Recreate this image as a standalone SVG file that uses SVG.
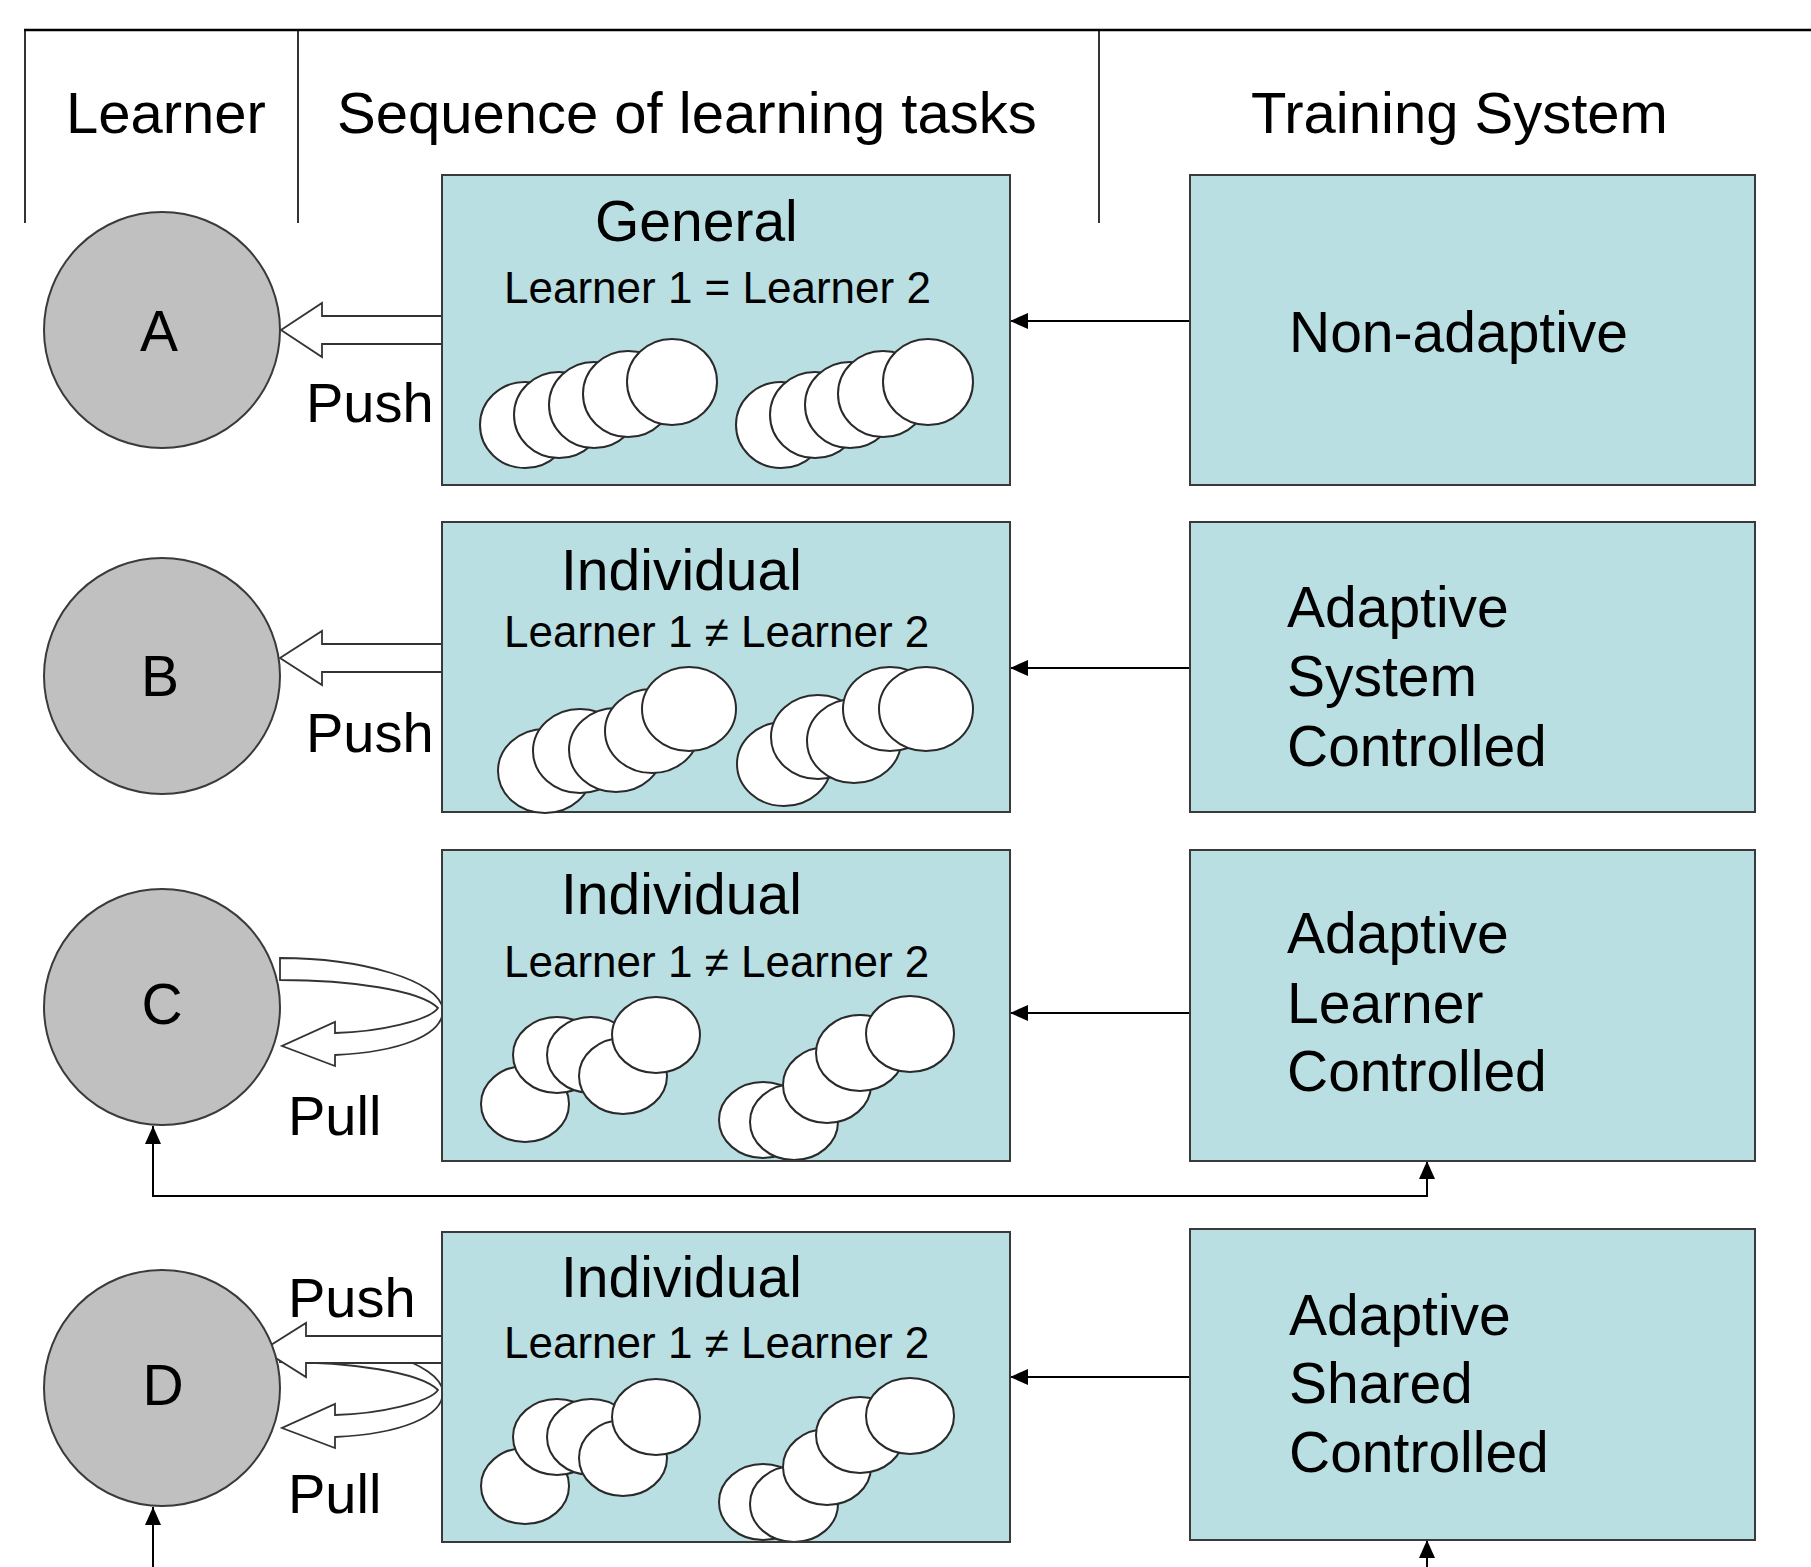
<svg xmlns="http://www.w3.org/2000/svg" width="1811" height="1567" viewBox="0 0 1811 1567">
<defs>
<style>
text{font-family:"Liberation Sans",Arial,sans-serif;fill:#000}
.hdr{font-size:58px}
.ttl{font-size:57px}
.eq{font-size:44px}
.lbl{font-size:56px}
.ts{font-size:57px}
.box{fill:#BADFE3;stroke:#3a3a3a;stroke-width:2}
.lrn{fill:#C0C0C0;stroke:#3a3a3a;stroke-width:2}
.task{fill:#fff;stroke:#2a2a2a;stroke-width:2}
.blk{fill:#fff;stroke:#333;stroke-width:1.8;stroke-linejoin:miter}
.con{fill:none;stroke:#000;stroke-width:2}
.rule{stroke:#000;fill:none}
</style>
<marker id="ah" viewBox="0 0 18 16" refX="18" refY="8" markerWidth="18" markerHeight="16" orient="auto-start-reverse" markerUnits="userSpaceOnUse">
<path d="M0,0 L18,8 L0,16 Z" fill="#000"/>
</marker>
<path id="pull" d="M280,958 C360,958 440,980 443,1010 C443,1035 400,1052 335,1055 L335,1066 L282,1046 L335,1022 L335,1033 C380,1032 430,1020 438,1008 C420,990 350,980 280,980 Z"/>
</defs>
<rect width="1811" height="1567" fill="#fff"/>

<g id="header">
<line class="rule" x1="24" y1="30" x2="1811" y2="30" stroke-width="2.6"/>
<line class="rule" x1="25" y1="30" x2="25" y2="223" stroke-width="1.6"/>
<line class="rule" x1="298" y1="30" x2="298" y2="223" stroke-width="1.6"/>
<line class="rule" x1="1099" y1="30" x2="1099" y2="223" stroke-width="1.6"/>
<text class="hdr" x="66" y="133">Learner</text>
<text class="hdr" x="337" y="133">Sequence of learning tasks</text>
<text class="hdr" x="1251" y="133">Training System</text>
</g>

<g id="connectors">
<line class="con" x1="1190" y1="321" x2="1010" y2="321" marker-end="url(#ah)"/>
<line class="con" x1="1190" y1="668" x2="1010" y2="668" marker-end="url(#ah)"/>
<line class="con" x1="1190" y1="1013" x2="1010" y2="1013" marker-end="url(#ah)"/>
<line class="con" x1="1190" y1="1377" x2="1010" y2="1377" marker-end="url(#ah)"/>
<path class="con" d="M153,1126 L153,1196 L1427,1196 L1427,1161" marker-start="url(#ah)" marker-end="url(#ah)"/>
<line class="con" x1="153" y1="1567" x2="153" y2="1507" marker-end="url(#ah)"/>
<line class="con" x1="1427" y1="1567" x2="1427" y2="1540" marker-end="url(#ah)"/>
<polygon class="blk" points="281,330 322,303 322,316 443,316 443,344 322,344 322,357"/>
<polygon class="blk" points="280,658 322,631 322,644 443,644 443,672 322,672 322,685"/>
<use href="#pull" class="blk"/>
<use href="#pull" class="blk" transform="translate(0,382)"/>
<polygon class="blk" points="263,1350 306,1323 306,1336 443,1336 443,1363 306,1363 306,1377"/>
<text class="lbl" x="306" y="422">Push</text>
<text class="lbl" x="306" y="752">Push</text>
<text class="lbl" x="288" y="1135">Pull</text>
<text class="lbl" x="288" y="1317">Push</text>
<text class="lbl" x="288" y="1513">Pull</text>
</g>

<g id="learner-A"><circle class="lrn" cx="162" cy="330" r="118"/><text class="ttl" x="159" y="351" text-anchor="middle">A</text></g>
<g id="learner-B"><circle class="lrn" cx="162" cy="676" r="118"/><text class="ttl" x="160" y="696" text-anchor="middle">B</text></g>
<g id="learner-C"><circle class="lrn" cx="162" cy="1007" r="118"/><text class="ttl" x="162" y="1024" text-anchor="middle">C</text></g>
<g id="learner-D"><circle class="lrn" cx="162" cy="1388" r="118"/><text class="ttl" x="163" y="1405" text-anchor="middle">D</text></g>

<g id="seq-A">
<rect class="box" x="442" y="175" width="568" height="310"/>
<text class="ttl" x="595" y="241">General</text>
<text class="eq" x="504" y="303">Learner 1 = Learner 2</text>
<ellipse class="task" cx="525" cy="425" rx="45" ry="43"/>
<ellipse class="task" cx="559" cy="415" rx="45" ry="43"/>
<ellipse class="task" cx="594" cy="405" rx="45" ry="43"/>
<ellipse class="task" cx="628" cy="394" rx="45" ry="43"/>
<ellipse class="task" cx="672" cy="382" rx="45" ry="43"/>
<ellipse class="task" cx="781" cy="425" rx="45" ry="43"/>
<ellipse class="task" cx="815" cy="415" rx="45" ry="43"/>
<ellipse class="task" cx="850" cy="405" rx="45" ry="43"/>
<ellipse class="task" cx="883" cy="394" rx="45" ry="43"/>
<ellipse class="task" cx="928" cy="382" rx="45" ry="43"/>
</g>

<g id="seq-B">
<rect class="box" x="442" y="522" width="568" height="290"/>
<text class="ttl" x="561" y="590">Individual</text>
<text class="eq" x="504" y="647">Learner 1 ≠ Learner 2</text>
<ellipse class="task" cx="545" cy="771" rx="47" ry="42"/>
<ellipse class="task" cx="580" cy="751" rx="47" ry="42"/>
<ellipse class="task" cx="616" cy="750" rx="47" ry="42"/>
<ellipse class="task" cx="652" cy="731" rx="47" ry="42"/>
<ellipse class="task" cx="689" cy="709" rx="47" ry="42"/>
<ellipse class="task" cx="784" cy="764" rx="47" ry="42"/>
<ellipse class="task" cx="818" cy="737" rx="47" ry="42"/>
<ellipse class="task" cx="854" cy="741" rx="47" ry="42"/>
<ellipse class="task" cx="890" cy="709" rx="47" ry="42"/>
<ellipse class="task" cx="926" cy="709" rx="47" ry="42"/>
</g>

<g id="seq-C">
<rect class="box" x="442" y="850" width="568" height="311"/>
<text class="ttl" x="561" y="914">Individual</text>
<text class="eq" x="504" y="977">Learner 1 ≠ Learner 2</text>
<ellipse class="task" cx="525" cy="1104" rx="44" ry="38"/>
<ellipse class="task" cx="557" cy="1055" rx="44" ry="38"/>
<ellipse class="task" cx="591" cy="1055" rx="44" ry="38"/>
<ellipse class="task" cx="623" cy="1076" rx="44" ry="38"/>
<ellipse class="task" cx="656" cy="1035" rx="44" ry="38"/>
<ellipse class="task" cx="763" cy="1120" rx="44" ry="38"/>
<ellipse class="task" cx="794" cy="1122" rx="44" ry="38"/>
<ellipse class="task" cx="827" cy="1085" rx="44" ry="38"/>
<ellipse class="task" cx="860" cy="1053" rx="44" ry="38"/>
<ellipse class="task" cx="910" cy="1034" rx="44" ry="38"/>
<rect x="700" y="1161" width="200" height="4" fill="#fff"/>
<line x1="442" y1="1161" x2="1010" y2="1161" stroke="#3a3a3a" stroke-width="2"/>
</g>

<g id="seq-D">
<rect class="box" x="442" y="1232" width="568" height="310"/>
<text class="ttl" x="561" y="1297">Individual</text>
<text class="eq" x="504" y="1358">Learner 1 ≠ Learner 2</text>
<ellipse class="task" cx="525" cy="1486" rx="44" ry="38"/>
<ellipse class="task" cx="557" cy="1437" rx="44" ry="38"/>
<ellipse class="task" cx="591" cy="1437" rx="44" ry="38"/>
<ellipse class="task" cx="623" cy="1458" rx="44" ry="38"/>
<ellipse class="task" cx="656" cy="1417" rx="44" ry="38"/>
<ellipse class="task" cx="763" cy="1502" rx="44" ry="38"/>
<ellipse class="task" cx="794" cy="1504" rx="44" ry="38"/>
<ellipse class="task" cx="827" cy="1467" rx="44" ry="38"/>
<ellipse class="task" cx="860" cy="1435" rx="44" ry="38"/>
<ellipse class="task" cx="910" cy="1416" rx="44" ry="38"/>
<line x1="442" y1="1542" x2="1010" y2="1542" stroke="#3a3a3a" stroke-width="2"/>
</g>

<g id="ts-A">
<rect class="box" x="1190" y="175" width="565" height="310"/>
<text class="ts" x="1289" y="352">Non-adaptive</text>
</g>
<g id="ts-B">
<rect class="box" x="1190" y="522" width="565" height="290"/>
<text class="ts" x="1287" y="627">Adaptive</text>
<text class="ts" x="1287" y="696">System</text>
<text class="ts" x="1287" y="766">Controlled</text>
</g>
<g id="ts-C">
<rect class="box" x="1190" y="850" width="565" height="311"/>
<text class="ts" x="1287" y="953">Adaptive</text>
<text class="ts" x="1287" y="1023">Learner</text>
<text class="ts" x="1287" y="1091">Controlled</text>
</g>
<g id="ts-D">
<rect class="box" x="1190" y="1229" width="565" height="311"/>
<text class="ts" x="1289" y="1335">Adaptive</text>
<text class="ts" x="1289" y="1403">Shared</text>
<text class="ts" x="1289" y="1472">Controlled</text>
</g>
</svg>
